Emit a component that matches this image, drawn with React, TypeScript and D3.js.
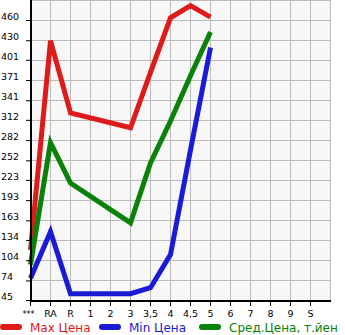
import React from "react";
import * as d3 from "d3";

const categories = ["***", "RA", "R", "1", "2", "3", "3,5", "4", "4,5", "5", "6", "7", "8", "9", "S"];
const yTickLabels = [45, 74, 104, 134, 163, 193, 223, 252, 282, 312, 341, 371, 401, 430, 460];
const maxPrice: (number | null)[] = [120, 430, 323, null, null, 301, 383, 464, 482, 465, null, null, null, null, null];
const minPrice: (number | null)[] = [78, 147, 55, 55, 55, 55, 64, 113, 268, 420, null, null, null, null, null];
const avgPrice: (number | null)[] = [98, 279, 219, null, null, 160, 249, 311, 378, 443, null, null, null, null, null];
const legendLabels = ["Мах Цена", "Min Цена", "Сред.Цена, т.йен"];
const colors = ["#dd1b1b", "#1b1bd6", "#0a820a"];

export default function App() {
  const W = 345, H = 335;
  const x = d3.scaleLinear().domain([0, 15]).range([30.5, 330.5]);
  const step = (460 - 45) / 14;
  const y = d3.scaleLinear().domain([45, 45 + step * 15]).range([300.5, 0.5]);

  const series = [maxPrice, minPrice, avgPrice];
  const line = d3
    .line<[number, number]>()
    .x((d) => x(d[0]))
    .y((d) => y(d[1]));

  const paths = series.map((s) => {
    const pts: [number, number][] = [];
    s.forEach((v, i) => {
      if (v !== null) pts.push([i, v]);
    });
    return line(pts) || "";
  });

  const vGrid = d3.range(1, 16);
  const hGrid = d3.range(0, 16);

  const legendX = [0, 99, 199];
  const font = "'DejaVu Sans', Verdana, sans-serif";

  return (
    <div style={{ position: "absolute", left: 0, top: 0 }}>
      <svg width={W} height={H} style={{ display: "block" }}>
        <rect x={30.5} y={0.5} width={300} height={300} fill="#f7f7f7" />
        {vGrid.map((i) => (
          <line key={"v" + i} x1={x(i)} x2={x(i)} y1={0} y2={300} stroke="#bbbbbb" strokeWidth={1} />
        ))}
        {hGrid.map((k) => (
          <line key={"h" + k} x1={31} x2={331} y1={y(45 + step * k)} y2={y(45 + step * k)} stroke="#bbbbbb" strokeWidth={1} />
        ))}
        {paths.map((p, i) => (
          <path key={"p" + i} d={p} fill="none" stroke={colors[i]} strokeWidth={5} strokeLinejoin="miter" strokeLinecap="butt" />
        ))}
        <line x1={31} x2={31} y1={0} y2={302} stroke="#000" strokeWidth={2} />
        <line x1={30} x2={331} y1={301} y2={301} stroke="#000" strokeWidth={2} />
        {yTickLabels.map((v) => (
          <g key={"yt" + v}>
            <line x1={26} x2={31} y1={y(v)} y2={y(v)} stroke="#000" strokeWidth={1} />
            <text x={1} y={y(v) - 0.5} fontSize={9.5} fontFamily={font} fill="#000">
              {v}
            </text>
          </g>
        ))}
        {categories.map((c, i) => (
          <g key={"xt" + i}>
            <line x1={x(i)} x2={x(i)} y1={301} y2={306} stroke="#000" strokeWidth={1} />
            <text x={i === 0 ? x(i) - 2 : x(i)} y={317} fontSize={i === 0 ? 8 : 9.5} fontFamily={font} textAnchor="middle" fill="#000">
              {c}
            </text>
          </g>
        ))}
        {legendLabels.map((l, i) => (
          <g key={"lg" + i}>
            <line x1={legendX[i] + 3} x2={legendX[i] + 19} y1={327} y2={327} stroke={colors[i]} strokeWidth={6} strokeLinecap="round" />
            <text x={legendX[i] + 30} y={332} fontSize={12} fontFamily={font} fill={colors[i]}>
              {l}
            </text>
          </g>
        ))}
      </svg>
    </div>
  );
}
